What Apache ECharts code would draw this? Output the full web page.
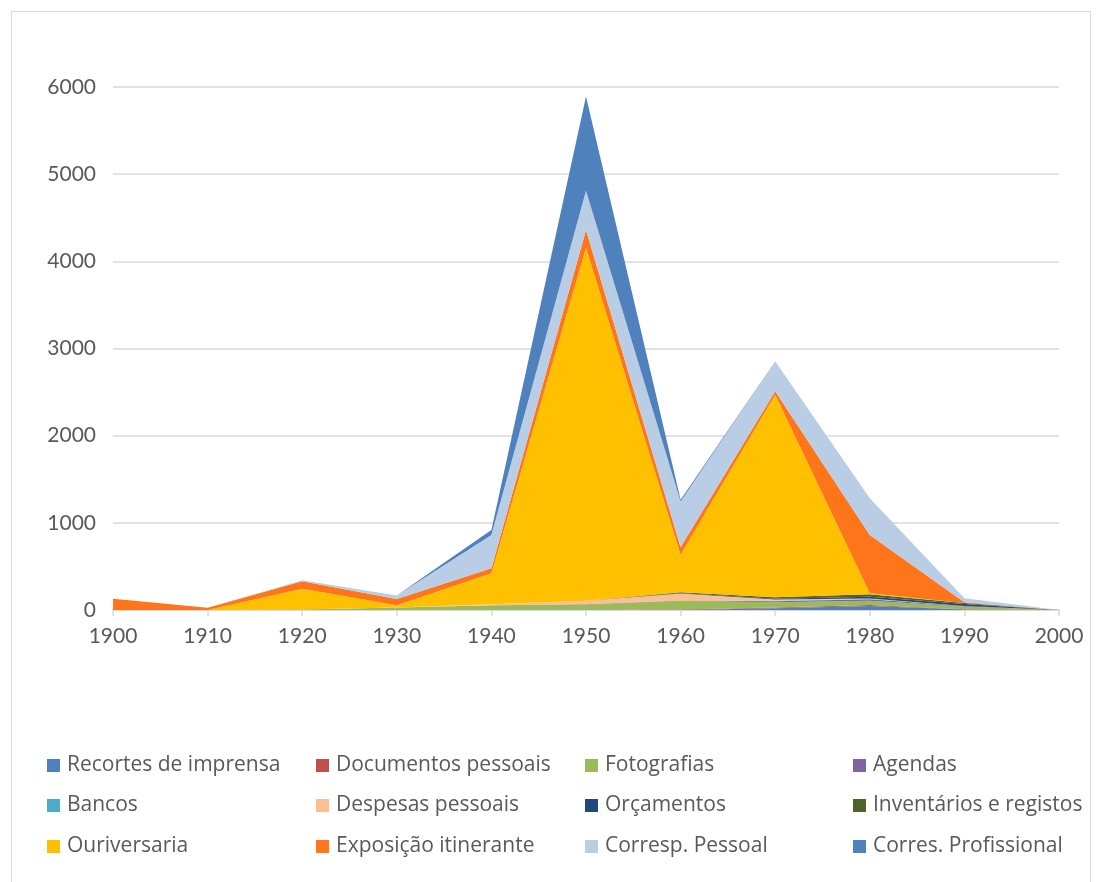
<!DOCTYPE html>
<html><head><meta charset="utf-8">
<script src="https://cdn.jsdelivr.net/npm/echarts@6/dist/echarts.min.js"></script>
<style>html,body{margin:0;padding:0;background:#fff}#c{width:1101px;height:882px}
#b{position:absolute;left:11px;top:11px;width:1078px;height:880px;border:1px solid #d9d9d9;pointer-events:none}</style>
</head><body><div id="c"></div><div id="b"></div>
<script>
const decades = ['1900','1910','1920','1930','1940','1950','1960','1970','1980','1990','2000'];
const recortes     = [0,0,0,0,0,0,0,20,46,5,0];
const documentos   = [0,0,0,0,0,0,5,10,11,5,0];
const fotografias  = [0,0,5,30,55,60,100,60,50,30,0];
const agendas      = [0,0,0,0,0,5,5,10,15,5,0];
const bancos       = [0,0,0,0,0,0,0,5,5,0,0];
const despesas     = [0,0,0,0,10,40,80,15,5,0,0];
const orcamentos   = [0,0,0,0,0,0,5,10,19,25,0];
const inventarios  = [0,0,0,0,0,0,10,15,30,10,0];
const ouriversaria = [0,0,240,25,356,4050,430,2325,10,0,0];
const exposicao    = [130,25,85,70,57,205,85,40,670,10,0];
const correspPess  = [0,0,10,40,382,450,525,345,420,45,0];
const corresProf   = [0,0,0,0,58,1080,20,0,0,0,0];
const yTicks = [0,1000,2000,3000,4000,5000,6000];

const names = ['Recortes de imprensa','Documentos pessoais','Fotografias','Agendas','Bancos','Despesas pessoais','Orçamentos','Inventários e registos','Ouriversaria','Exposição itinerante','Corresp. Pessoal','Corres. Profissional'];
const values = [recortes,documentos,fotografias,agendas,bancos,despesas,orcamentos,inventarios,ouriversaria,exposicao,correspPess,corresProf];
const colors = ['#4F81BD','#C0504D','#9BBB59','#8064A2','#4BACC6','#FAC090','#1F497D','#4F6228','#FFC000','#FF7519','#B9CDE5','#4F81BD'];

const FONT = '"Open Sans", Lato, sans-serif';
const AXFONT = 'Lato, "Open Sans", sans-serif';
const chart = echarts.init(document.getElementById('c'));
const colX = [47, 316, 585, 853];
const rowY = [755, 795, 836];
const legends = names.map((n,i)=>({
  data:[n], left: colX[i%4], top: rowY[Math.floor(i/4)], padding:0,
  itemWidth:13, itemHeight:13, icon:'rect', selectedMode:false,
  textStyle:{fontFamily:FONT, fontSize:21, color:'#595959', padding:[0,0,0,2]}
}));
chart.setOption({
  animation:false,
  color: colors,
  legend: legends,
  grid:{left:113, right:42, top:87, bottom:272},
  xAxis:{type:'category', data:decades, boundaryGap:false,
    axisLine:{lineStyle:{color:'#d9d9d9', width:1.5}},
    axisTick:{show:true, alignWithLabel:true, length:6, lineStyle:{color:'#d9d9d9', width:1.5}},
    axisLabel:{fontFamily:AXFONT, fontSize:21, color:'#595959', margin:16}},
  yAxis:{type:'value', min:yTicks[0], max:yTicks[yTicks.length-1], interval:1000,
    axisLine:{show:false}, axisTick:{show:false},
    splitLine:{lineStyle:{color:'#d9d9d9', width:1.5}},
    axisLabel:{fontFamily:AXFONT, fontSize:21, color:'#595959', margin:17, formatter:v=>String(v)}},
  series: names.map((n,i)=>({
    name:n, type:'line', stack:'total', data:values[i], symbol:'none', showSymbol:false,
    lineStyle:{width:0}, areaStyle:{color:colors[i], opacity:1}, itemStyle:{color:colors[i]}
  }))
});
</script></body></html>
